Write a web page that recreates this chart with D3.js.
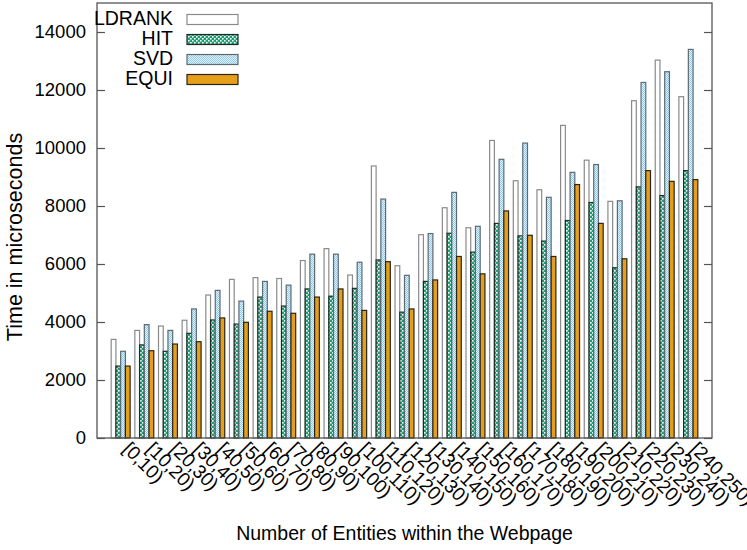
<!DOCTYPE html>
<html>
<head>
<meta charset="utf-8">
<script src="https://cdn.jsdelivr.net/npm/d3@7"></script>
<style>
  body { margin: 0; background: #fff; }
  svg { display: block; font-family: "Liberation Sans", Arial, Helvetica, sans-serif; }
</style>
</head>
<body>
<svg id="chart" width="747" height="550"></svg>
<script>
// Entity-count buckets on the x axis
const categories = ["[0,10)", "[10,20)", "[20,30)", "[30,40)", "[40,50)", "[50,60)", "[60,70)",
  "[70,80)", "[80,90)", "[90,100)", "[100,110)", "[110,120)", "[120,130)", "[130,140)",
  "[140,150)", "[150,160)", "[160,170)", "[170,180)", "[180,190)", "[190,200)", "[200,210)",
  "[210,220)", "[220,230)", "[230,240)", "[240,250)"];

const seriesNames = ["LDRANK", "HIT", "SVD", "EQUI"];

// Time in microseconds per bucket
const ldrank = [3400, 3710, 3860, 4060, 4930, 5470, 5530, 5500, 6120, 6530, 5620, 9380, 5940,
  7010, 7940, 7250, 10260, 8870, 8560, 10780, 9580, 8160, 11630, 13030, 11770];
const hit = [2480, 3210, 2990, 3610, 4070, 3930, 4860, 4550, 5140, 4890, 5160, 6140, 4340,
  5400, 7060, 6410, 7400, 6970, 6790, 7500, 8120, 5870, 8660, 8360, 9220];
const svd = [2990, 3910, 3710, 4450, 5090, 4720, 5400, 5270, 6340, 6340, 6060, 8240, 5610,
  7050, 8470, 7300, 9610, 10170, 8300, 9160, 9430, 8180, 12260, 12630, 13400];
const equi = [2480, 3010, 3240, 3320, 4140, 3990, 4370, 4300, 4860, 5140, 4400, 6080, 4450,
  5450, 6260, 5660, 7830, 6990, 6260, 8740, 7400, 6180, 9220, 8850, 8910];

const yTicks = [0, 2000, 4000, 6000, 8000, 10000, 12000, 14000];

const seriesValues = [ldrank, hit, svd, equi];

const svg = d3.select("#chart");
const plotLeft = 97, plotRight = 712, plotTop = 3, plotBottom = 438;

// Patterns for the textured fills
const defs = svg.append("defs");
const pHit = defs.append("pattern").attr("id", "pat-hit")
  .attr("patternUnits", "userSpaceOnUse").attr("width", 4).attr("height", 4);
pHit.append("rect").attr("width", 4).attr("height", 4).attr("fill", "#1f9e74");
pHit.append("rect").attr("x", 0).attr("y", 0).attr("width", 1.6).attr("height", 1.6).attr("fill", "#ffffff");
pHit.append("rect").attr("x", 2).attr("y", 2).attr("width", 1.6).attr("height", 1.6).attr("fill", "#ffffff");

const pSvd = defs.append("pattern").attr("id", "pat-svd")
  .attr("patternUnits", "userSpaceOnUse").attr("width", 2).attr("height", 2);
pSvd.append("rect").attr("width", 2).attr("height", 2).attr("fill", "#e6f3fb");
pSvd.append("rect").attr("x", 0).attr("y", 0).attr("width", 1).attr("height", 1).attr("fill", "#8ccbef");
pSvd.append("rect").attr("x", 1).attr("y", 1).attr("width", 1).attr("height", 1).attr("fill", "#8ccbef");

const fills = ["#ffffff", "url(#pat-hit)", "url(#pat-svd)", "#e69f1a"];
const strokes = ["#8a8a8a", "#1d2a24", "#5c6a72", "#2a2418"];

const x = d3.scaleLinear().domain([-1, 25]).range([plotLeft, plotRight]);
const y = d3.scaleLinear().domain([0, 15000]).range([plotBottom, plotTop]);

const barW = 0.2;

// Bars
seriesValues.forEach((vals, k) => {
  svg.append("g").selectAll("rect").data(vals).join("rect")
    .attr("x", (d, i) => x(i - 0.4 + k * barW))
    .attr("width", x(barW) - x(0))
    .attr("y", d => y(d))
    .attr("height", d => y(0) - y(d))
    .attr("fill", fills[k])
    .attr("stroke", strokes[k])
    .attr("stroke-width", 1.2);
});

// Frame
svg.append("rect").attr("x", plotLeft).attr("y", plotTop)
  .attr("width", plotRight - plotLeft).attr("height", plotBottom - plotTop)
  .attr("fill", "none").attr("stroke", "#555").attr("stroke-width", 1.3);

// Y axis (inward ticks, mirrored on the right)
const yAxis = svg.append("g").attr("transform", `translate(${plotLeft},0)`)
  .call(d3.axisLeft(y).tickValues(yTicks).tickSize(-8).tickPadding(11).tickFormat(d3.format("d")));
yAxis.select(".domain").remove();
yAxis.selectAll("line").attr("stroke", "#555").attr("stroke-width", 1.2);
yAxis.selectAll("text").attr("font-size", 18.5).attr("fill", "#000")
  .attr("font-family", "'Liberation Sans', Arial, Helvetica, sans-serif");

const yAxisR = svg.append("g").attr("transform", `translate(${plotRight},0)`)
  .call(d3.axisRight(y).tickValues(yTicks).tickSize(-8).tickFormat(""));
yAxisR.select(".domain").remove();
yAxisR.selectAll("line").attr("stroke", "#555").attr("stroke-width", 1.2);

// Rotated category labels
svg.append("g").selectAll("text").data(categories).join("text")
  .attr("transform", (d, i) => `translate(${x(i) + 1},${450}) rotate(45)`)
  .attr("text-anchor", "start")
  .attr("font-size", 19)
  .attr("fill", "#000")
  .text(d => d);

// Axis titles
svg.append("text")
  .attr("x", (plotLeft + plotRight) / 2).attr("y", 540)
  .attr("text-anchor", "middle").attr("font-size", 19.5).attr("fill", "#000")
  .text("Number of Entities within the Webpage");

svg.append("text")
  .attr("transform", `translate(22,237) rotate(-90)`)
  .attr("text-anchor", "middle").attr("font-size", 21.5).attr("fill", "#000")
  .text("Time in microseconds");

// Legend
const legend = svg.append("g");
seriesNames.forEach((name, k) => {
  const base = 25 + k * 20;
  legend.append("text").attr("x", 173).attr("y", base)
    .attr("text-anchor", "end").attr("font-size", 19.5).attr("fill", "#000").text(name);
  legend.append("rect").attr("x", 187).attr("y", base - 10.5)
    .attr("width", 51).attr("height", 10)
    .attr("fill", fills[k]).attr("stroke", strokes[k]).attr("stroke-width", 1.2);
});
</script>
</body>
</html>
